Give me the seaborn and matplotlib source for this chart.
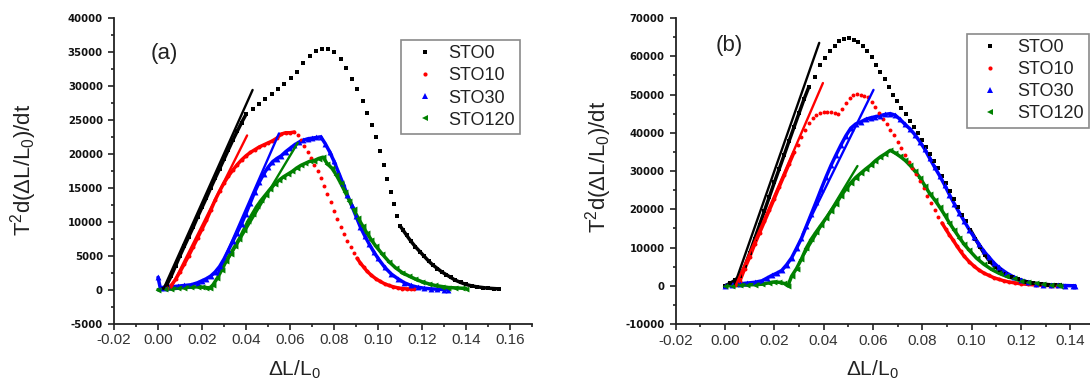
import numpy as np
import matplotlib
matplotlib.use("Agg")
import matplotlib.pyplot as plt
import seaborn as sns
from matplotlib.ticker import MultipleLocator, FormatStrFormatter
from matplotlib.lines import Line2D

# ---------------- data: panel (a) ----------------
a_sto0_x = [0.002, 0.004, 0.006, 0.008, 0.010, 0.012, 0.014, 0.016, 0.018, 0.020,
            0.022, 0.024, 0.026, 0.028, 0.030, 0.032, 0.034, 0.036, 0.038, 0.040,
            0.0430, 0.0458, 0.0487, 0.0516, 0.0545, 0.0574, 0.0603, 0.0632, 0.0661, 0.0690,
            0.0718, 0.0746, 0.0774, 0.0802, 0.0830, 0.0856, 0.0882, 0.0906, 0.0930, 0.0952,
            0.0973, 0.0992, 0.1010, 0.1027, 0.1043, 0.1058, 0.1072, 0.1085,
            0.1100, 0.1115, 0.1130, 0.1150, 0.1170, 0.1190, 0.1210, 0.1230, 0.1250, 0.1270,
            0.1290, 0.1310, 0.1330, 0.1350, 0.1375, 0.1400, 0.1425, 0.1450, 0.1475, 0.1500,
            0.1525, 0.1550]
a_sto0_y = [50, 700, 2000, 3500, 5000, 6400, 7800, 9200, 10700, 12100,
            13500, 15000, 16400, 17800, 19200, 20600, 22000, 23300, 24600, 25800,
            26600, 27400, 28100, 28800, 29500, 30300, 31100, 32100, 33300, 34400,
            35100, 35500, 35500, 35000, 33900, 32600, 31000, 29500, 27800, 26000,
            24300, 22500, 20400, 18300, 16300, 14400, 12600, 10900,
            9400, 8700, 8000, 7100, 6300, 5600, 4900, 4200, 3600, 3100,
            2600, 2200, 1800, 1400, 1050, 750, 550, 400, 300, 200,
            150, 100]

a_sto10_x = [0.004, 0.006, 0.008, 0.010, 0.012, 0.014, 0.016, 0.018, 0.020, 0.022,
             0.024, 0.026, 0.028, 0.030, 0.032, 0.034, 0.036, 0.038, 0.040, 0.042,
             0.044, 0.046, 0.048, 0.050, 0.052, 0.054, 0.056, 0.058, 0.060, 0.062,
             0.0635, 0.0650, 0.0665, 0.0680, 0.0695, 0.0710, 0.0725, 0.0740, 0.0755, 0.0770,
             0.0785, 0.0800, 0.0815, 0.0830, 0.0845, 0.0860, 0.0875, 0.0890,
             0.0905, 0.0920, 0.0935, 0.0950, 0.0970, 0.0990, 0.1010, 0.1030, 0.1050, 0.1070,
             0.1090, 0.1110, 0.1130, 0.1150, 0.1165]
a_sto10_y = [300, 600, 1500, 2600, 3800, 5000, 6300, 7600, 8900, 10200,
             11700, 13200, 14500, 15700, 16700, 17600, 18400, 19100, 19700, 20200,
             20600, 21000, 21300, 21600, 21900, 22300, 22900, 23100, 23100, 23200,
             22700, 22000, 21200, 20300, 19400, 18400, 17400, 16500, 15300, 14100,
             12900, 11600, 10400, 9200, 8200, 7200, 6300, 5400,
             4600, 3900, 3300, 2700, 2100, 1600, 1200, 850, 600, 400,
             250, 150, 100, 80, 50]

a_sto30_x = [0.000, 0.001, 0.003, 0.006, 0.009, 0.012, 0.015, 0.018, 0.020, 0.022,
             0.024, 0.026, 0.028, 0.030, 0.032, 0.034, 0.036, 0.038, 0.040, 0.042,
             0.044, 0.046, 0.048, 0.050, 0.052, 0.054, 0.056, 0.058, 0.060, 0.062,
             0.064, 0.066, 0.068, 0.070, 0.072, 0.074, 0.076, 0.078, 0.080, 0.082,
             0.084, 0.086, 0.088, 0.090, 0.092, 0.094, 0.096, 0.098, 0.100, 0.103,
             0.106, 0.109, 0.112, 0.115, 0.118, 0.121, 0.124, 0.127, 0.130, 0.132]
a_sto30_y = [1800, 300, 300, 400, 500, 600, 700, 1000, 1300, 1600,
             2000, 2600, 3400, 4500, 5800, 7100, 8400, 9700, 11200, 12800,
             14400, 15800, 17000, 18000, 18800, 19300, 19700, 20300, 20800, 21300,
             21700, 22000, 22200, 22300, 22400, 22500, 21500, 20300, 18900, 17300,
             15700, 14000, 12400, 10800, 9200, 7900, 6700, 5600, 4600, 3300,
             2300, 1600, 1000, 600, 350, 200, 100, 50, 0, 0]

a_sto120_x = [0.000, 0.003, 0.006, 0.009, 0.012, 0.015, 0.018, 0.020, 0.022, 0.0235,
              0.025, 0.027, 0.029, 0.031, 0.033, 0.035, 0.037, 0.039, 0.041, 0.043,
              0.045, 0.047, 0.049, 0.051, 0.053, 0.055, 0.057, 0.059, 0.061, 0.063,
              0.065, 0.067, 0.069, 0.071, 0.073, 0.075, 0.077, 0.079, 0.081, 0.083,
              0.085, 0.087, 0.089, 0.091, 0.093, 0.095, 0.097, 0.099, 0.102, 0.105,
              0.108, 0.111, 0.114, 0.117, 0.120, 0.123, 0.126, 0.129, 0.132, 0.135,
              0.138, 0.140]
a_sto120_y = [0, 50, 100, 200, 300, 350, 400, 350, 300, 200,
              700, 1700, 2900, 4200, 5300, 6400, 7500, 8800, 10100, 11200,
              12300, 13200, 14000, 14800, 15500, 16100, 16600, 17000, 17400, 17900,
              18300, 18600, 18900, 19000, 19300, 19500, 18500, 17900, 16900, 15700,
              14400, 13100, 11800, 10500, 9400, 8300, 7300, 6400, 5200, 4100,
              3200, 2500, 2000, 1550, 1150, 850, 600, 450, 300, 250,
              200, 150]

# linear fits, panel (a): [x_start, x_end], [y_start, y_end]
a_fit_sto0 = ([0.0025, 0.0430], [100, 29400])
a_fit_sto10 = ([0.0060, 0.0405], [300, 22700])
a_fit_sto30 = ([0.0270, 0.0550], [2200, 23000])
a_fit_sto120 = ([0.0310, 0.0635], [4000, 21600])

# ---------------- data: panel (b) ----------------
b_sto0_x = [0.000, 0.002, 0.004, 0.006, 0.008, 0.010, 0.012, 0.014, 0.016, 0.018,
            0.020, 0.022, 0.024, 0.026, 0.028, 0.030, 0.032, 0.034,
            0.0364, 0.0384, 0.0404, 0.0424, 0.0444, 0.0464, 0.0484, 0.0504, 0.0522, 0.0540,
            0.0558, 0.0576, 0.0594, 0.0612, 0.0630, 0.0647, 0.0664, 0.0681, 0.0698, 0.0715,
            0.0732, 0.0749, 0.0766, 0.0783, 0.0800, 0.0816, 0.0832, 0.0848, 0.0864, 0.0880,
            0.0896, 0.0912, 0.0928, 0.0944, 0.0960, 0.0976,
            0.0995, 0.1015, 0.1035, 0.1055, 0.1075, 0.1095, 0.1115, 0.1140, 0.1165, 0.1190,
            0.1220, 0.1250, 0.1280, 0.1310, 0.1340, 0.1360]
b_sto0_y = [0, 600, 1400, 2500, 5000, 8500, 12200, 15900, 19600, 23300,
            27000, 30600, 34200, 37900, 41500, 45100, 48700, 52000,
            54600, 57600, 59600, 61400, 62800, 64000, 64600, 64700, 64300, 63600,
            62700, 61500, 59800, 57800, 55800, 54000, 52000, 50000, 48200, 46500,
            44800, 43200, 41600, 40000, 38200, 36300, 34400, 32500, 30700, 28800,
            26800, 24800, 22700, 20600, 18600, 16900,
            14600, 12300, 10100, 8000, 6300, 5000, 4000, 3000, 2200, 1700,
            1100, 700, 450, 300, 200, 150]

b_sto10_x = [0.004, 0.006, 0.008, 0.010, 0.012, 0.014, 0.016, 0.018, 0.020, 0.022,
             0.024, 0.026, 0.028,
             0.0295, 0.0310, 0.0325, 0.0340, 0.0355, 0.0370, 0.0385, 0.0400, 0.0415, 0.0430,
             0.0445, 0.0460, 0.0475, 0.0490, 0.0505, 0.0520, 0.0535, 0.0550, 0.0565, 0.0580,
             0.0595, 0.0610, 0.0625, 0.0640, 0.0655, 0.0670, 0.0685, 0.0700, 0.0715, 0.0730,
             0.0745, 0.0760, 0.0775, 0.0790, 0.0805, 0.0820, 0.0835, 0.0850, 0.0865,
             0.0880, 0.0895, 0.0910, 0.0925, 0.0940, 0.0955, 0.0970, 0.0990, 0.1010, 0.1030,
             0.1050, 0.1070, 0.1090, 0.1110, 0.1130, 0.1150, 0.1175, 0.1200, 0.1230, 0.1260,
             0.1290, 0.1320, 0.1345]
b_sto10_y = [200, 1200, 4500, 7500, 10800, 13800, 16800, 19800, 22800, 25900,
             28900, 31900, 34900,
             36800, 38900, 40800, 42600, 43900, 44700, 45100, 45300, 45400, 45300,
             45100, 45000, 46300, 47800, 49000, 49900, 50200, 50000, 49700, 49300,
             48000, 46700, 45200, 43700, 42300, 40800, 39300, 37600, 35900, 34200,
             32400, 30800, 29100, 27400, 25500, 23500, 21600, 19700, 18000,
             16400, 14800, 13300, 11900, 10400, 9000, 7700, 6300, 5100, 4100,
             3300, 2700, 2100, 1700, 1300, 1000, 750, 500, 350, 200,
             100, 50, 0]

b_sto30_x = [0.000, 0.003, 0.006, 0.009, 0.012, 0.015, 0.017, 0.019, 0.021, 0.023,
             0.025, 0.027, 0.029, 0.031, 0.033, 0.035, 0.037, 0.039, 0.041, 0.043,
             0.045, 0.047, 0.049, 0.051, 0.053, 0.055, 0.057, 0.059, 0.061, 0.063,
             0.065, 0.067, 0.069, 0.071, 0.073, 0.075, 0.077, 0.079, 0.081, 0.083,
             0.085, 0.087, 0.089, 0.091, 0.093, 0.095, 0.097, 0.099, 0.101, 0.103,
             0.105, 0.107, 0.109, 0.111, 0.114, 0.117, 0.120, 0.123, 0.126, 0.129,
             0.132, 0.135, 0.138, 0.141, 0.142]
b_sto30_y = [0, 300, 500, 700, 900, 1300, 2000, 2700, 3300, 4000,
             5500, 7300, 9800, 12400, 15600, 18800, 22000, 25300, 28500, 31500,
             34200, 36800, 39200, 41200, 42300, 42800, 43500, 43900, 44200, 44500,
             44800, 45000, 44600, 43500, 42200, 41000, 39500, 37700, 35700, 33300,
             31000, 28800, 26400, 23800, 21400, 19100, 16900, 14700, 12700, 10800,
             9000, 7500, 6000, 4800, 3400, 2300, 1500, 900, 500, 300,
             200, 100, 50, 0, 0]

b_sto120_x = [0.000, 0.003, 0.006, 0.009, 0.012, 0.015, 0.018, 0.020, 0.022, 0.024,
              0.025, 0.0255, 0.027, 0.029, 0.031, 0.033, 0.035, 0.037, 0.039, 0.041,
              0.043, 0.045, 0.047, 0.049, 0.051, 0.053, 0.055, 0.057, 0.059, 0.061,
              0.063, 0.065, 0.067, 0.069, 0.071, 0.073, 0.075, 0.077, 0.079, 0.081,
              0.083, 0.085, 0.087, 0.089, 0.091, 0.093, 0.095, 0.097, 0.099, 0.102,
              0.105, 0.108, 0.111, 0.114, 0.117, 0.120, 0.123, 0.126, 0.129, 0.132,
              0.135, 0.136]
b_sto120_y = [0, 0, 100, 200, 300, 400, 800, 1000, 900, 600,
              200, 0, 2500, 4500, 7000, 9900, 12200, 14100, 15900, 17700,
              19600, 21400, 23500, 25200, 26900, 28300, 29400, 30500, 31500, 32700,
              33700, 34500, 35400, 34700, 33800, 32800, 31500, 30000, 28300, 26200,
              24100, 22500, 20600, 18600, 16400, 14500, 12600, 10800, 9300, 7200,
              5600, 4300, 3300, 2500, 1900, 1300, 900, 600, 400, 200,
              100, 50]

b_fit_sto0 = ([0.0040, 0.0382], [500, 63500])
b_fit_sto10 = ([0.0045, 0.0397], [300, 53000])
b_fit_sto30 = ([0.0315, 0.0602], [13500, 51200])
b_fit_sto120 = ([0.0300, 0.0537], [6000, 31300])

series_names = ["STO0", "STO10", "STO30", "STO120"]
x_ticks_a = [-0.02, 0.00, 0.02, 0.04, 0.06, 0.08, 0.10, 0.12, 0.14, 0.16]
x_ticks_b = [-0.02, 0.00, 0.02, 0.04, 0.06, 0.08, 0.10, 0.12, 0.14]

# ---------------- styles ----------------
STYLE = {
    "STO0":   dict(color="#000000", marker="s", s=8,  lw=2.5, ms=3.0),
    "STO10":  dict(color="#ff0000", marker="o", s=8,  lw=2.5, ms=3.0),
    "STO30":  dict(color="#0000ff", marker="^", s=18, lw=2.5, ms=4.0),
    "STO120": dict(color="#008000", marker="<", s=18, lw=2.5, ms=4.0),
}
# x-ranges in which the measured points are widely spaced (drawn as separate dots)
SPARSE = {
    ("a", "STO0"): (0.0420, 0.1090),
    ("a", "STO10"): (0.0630, 0.0895),
    ("b", "STO0"): (0.0350, 0.0980),
    ("b", "STO10"): (0.0290, 0.0870),
}

sns.set_theme(style="ticks")
plt.rcParams["font.family"] = ["Liberation Sans", "DejaVu Sans"]
plt.rcParams["mathtext.fontset"] = "custom"
plt.rcParams["mathtext.rm"] = "Liberation Sans"
plt.rcParams["mathtext.default"] = "regular"
plt.rcParams["axes.unicode_minus"] = False

fig = plt.figure(figsize=(10.9, 3.87), dpi=100)
W, H = 1090.0, 387.0
axA = fig.add_axes([114 / W, 1 - 323.5 / H, 418 / W, 305.5 / H])
axB = fig.add_axes([675.7 / W, 1 - 324 / H, (W - 675.7) / W, 306 / H])


def draw_series(ax, panel, name, x, y):
    st = STYLE[name]
    x = np.asarray(x, float)
    y = np.asarray(y, float)
    rng = SPARSE.get((panel, name))
    if rng is None:
        dense = np.ones(len(x), bool)
    else:
        dense = (x < rng[0]) | (x > rng[1])
    idx = np.where(dense)[0]
    if len(idx):
        chunks = np.split(idx, np.where(np.diff(idx) != 1)[0] + 1)
        for c in chunks:
            if len(c) > 1:
                sns.lineplot(x=x[c], y=y[c], ax=ax, color=st["color"], lw=st["lw"],
                             sort=False, estimator=None, legend=False, zorder=2)
    sns.scatterplot(x=x, y=y, ax=ax, color=st["color"], marker=st["marker"],
                    s=st["s"], linewidth=0, legend=False, zorder=3)


def draw_fit(ax, name, fit):
    st = STYLE[name]
    sns.lineplot(x=fit[0], y=fit[1], ax=ax, color=st["color"], lw=1.7,
                 sort=False, estimator=None, legend=False, zorder=4)


def style_axes(ax, xlim, ylim, ymaj, ymin, xticks):
    ax.set_xlim(*xlim)
    ax.set_ylim(*ylim)
    ax.set_xticks(xticks)
    ax.xaxis.set_minor_locator(MultipleLocator(0.01))
    ax.xaxis.set_major_formatter(FormatStrFormatter("%.2f"))
    ax.yaxis.set_major_locator(MultipleLocator(ymaj))
    ax.yaxis.set_minor_locator(MultipleLocator(ymin))
    ax.yaxis.set_major_formatter(FormatStrFormatter("%d"))
    sns.despine(ax=ax)
    for sp in ("left", "bottom"):
        ax.spines[sp].set_linewidth(1.3)
        ax.spines[sp].set_color("#222222")
    ax.tick_params(which="major", direction="out", length=4, width=1.2, color="#222222")
    ax.tick_params(which="minor", direction="out", length=2.5, width=1.2, color="#222222")
    ax.tick_params(axis="x", which="major", labelsize=11, labelcolor="#333333", pad=3)
    ax.tick_params(axis="y", which="major", labelsize=7.3, labelcolor="#111111", pad=4)
    for lab in ax.get_yticklabels():
        lab.set_fontweight("bold")
        lab.set_family("DejaVu Sans")
    ax.set_xlabel("")
    ax.set_ylabel("")


panels = [
    (axA, "a", [(a_sto0_x, a_sto0_y), (a_sto10_x, a_sto10_y), (a_sto30_x, a_sto30_y), (a_sto120_x, a_sto120_y)],
     [a_fit_sto0, a_fit_sto10, a_fit_sto30, a_fit_sto120]),
    (axB, "b", [(b_sto0_x, b_sto0_y), (b_sto10_x, b_sto10_y), (b_sto30_x, b_sto30_y), (b_sto120_x, b_sto120_y)],
     [b_fit_sto0, b_fit_sto10, b_fit_sto30, b_fit_sto120]),
]

for ax, panel, data, fits in panels:
    for name, (xs, ys) in zip(series_names, data):
        draw_series(ax, panel, name, xs, ys)
    for name, fit in zip(series_names, fits):
        draw_fit(ax, name, fit)

style_axes(axA, (-0.02, 0.17), (-5000, 40000), 5000, 2500, x_ticks_a)
style_axes(axB, (-0.02, 0.148), (-10000, 70000), 10000, 5000, x_ticks_b)

xlabel = "ΔL/L$_0$"
ylabel = "T$^2$d(ΔL/L$_0$)/dt"
for ax, xl_pos, yl_pos in [(axA, (0.431, -0.115), (-0.180, 0.502)),
                           (axB, (0.474, -0.112), (-0.149, 0.513))]:
    ax.set_xlabel(xlabel, fontsize=15, color="#222222")
    ax.set_ylabel(ylabel, fontsize=16, color="#222222")
    ax.xaxis.set_label_coords(*xl_pos)
    ax.yaxis.set_label_coords(*yl_pos)

axA.text(0.1196, 0.885, "(a)", transform=axA.transAxes, ha="center", va="center",
         fontsize=16, color="#222222")
axB.text(0.1287, 0.9085, "(b)", transform=axB.transAxes, ha="center", va="center",
         fontsize=16, color="#222222")

handles = [Line2D([], [], ls="none", marker=STYLE[n]["marker"], color=STYLE[n]["color"],
                  markersize=STYLE[n]["ms"], markeredgewidth=0) for n in series_names]
for ax, anchor, tpad in [(axA, (0.687, 0.928), 0.3), (axB, (0.703, 0.948), 0.48)]:
    leg = ax.legend(handles, series_names, loc="upper left", bbox_to_anchor=anchor,
                    borderaxespad=0, fontsize=13, frameon=True, fancybox=False,
                    handlelength=2.0, handletextpad=tpad, borderpad=0.3,
                    labelspacing=0.28)
    fr = leg.get_frame()
    fr.set_edgecolor("#8a8a8a")
    fr.set_linewidth(1.2)
    fr.set_facecolor("white")
    fr.set_alpha(1)
    for t in leg.get_texts():
        t.set_color("#222222")

fig.savefig("out.png", dpi=100)
